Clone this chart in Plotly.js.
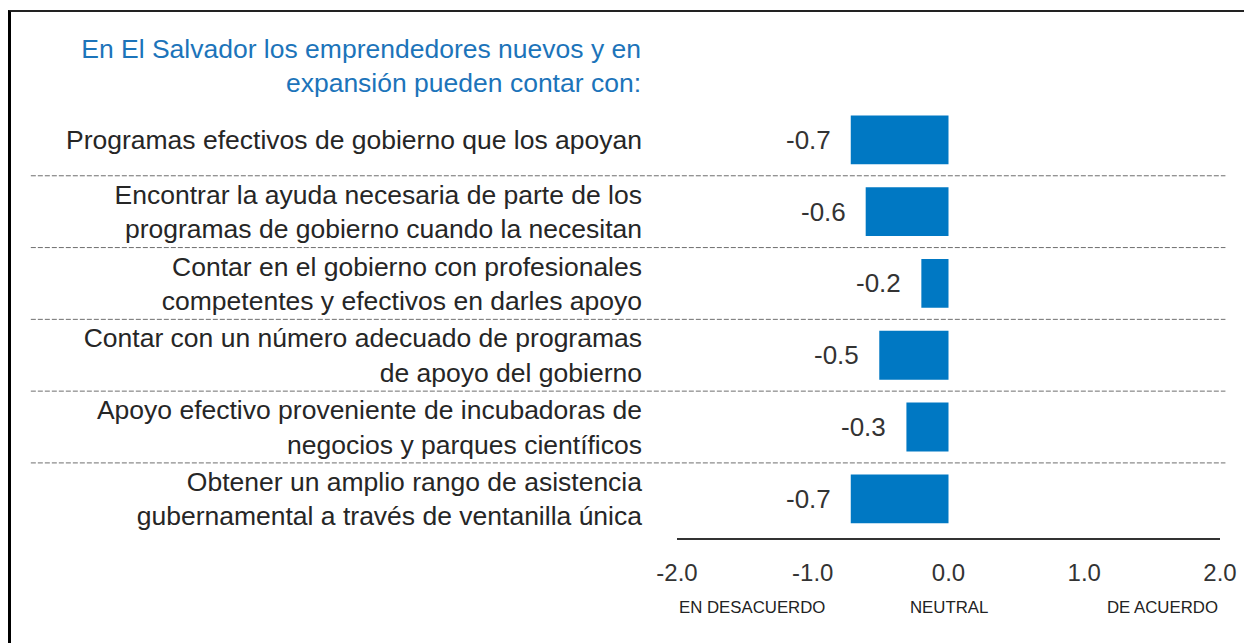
<!DOCTYPE html>
<html>
<head>
<meta charset="utf-8">
<script src="https://cdn.plot.ly/plotly-3.0.1.min.js"></script>
<style>
  html, body { margin: 0; padding: 0; background: #fff; }
  #wrap { position: relative; width: 1244px; height: 643px; overflow: hidden; }
  #chart { width: 1244px; height: 643px; }
  #frame { position: absolute; left: 8px; top: 10px; right: -10px; bottom: -10px;
           border-top: 2px solid #222; border-left: 3px solid #000; pointer-events: none; }
</style>
</head>
<body>
<div id="wrap"><div id="chart"></div><div id="frame"></div></div>
<script>
const titleText = "En El Salvador los emprendedores nuevos y en<br>expansión pueden contar con:";
const categories = [
  "Programas efectivos de gobierno que los apoyan",
  "Encontrar la ayuda necesaria de parte de los<br>programas de gobierno cuando la necesitan",
  "Contar en el gobierno con profesionales<br>competentes y efectivos en darles apoyo",
  "Contar con un número adecuado de programas<br>de apoyo del gobierno",
  "Apoyo efectivo proveniente de incubadoras de<br>negocios y parques científicos",
  "Obtener un amplio rango de asistencia<br>gubernamental a través de ventanilla única"
];
const values = [-0.72, -0.61, -0.20, -0.51, -0.31, -0.72];
const tickValues = [-2, -1, 0, 1, 2];
const tickLabels = ["-2.0", "-1.0", "0.0", "1.0", "2.0"];
const scaleLabels = ["EN DESACUERDO", "NEUTRAL", "DE ACUERDO"];
const scalePositions = [-2, 0, 2];

const FONT = "Liberation Sans, Arial, sans-serif";
const TEXT = "#262626";

const trace = {
  type: "bar",
  orientation: "h",
  x: values,
  y: categories,
  marker: { color: "#0078c3", line: { width: 0 } },
  width: 0.68,
  hoverinfo: "x+y"
};

const annotations = [];
values.forEach((v, i) => {
  annotations.push({
    x: v, y: categories[i], xref: "x", yref: "y",
    text: v.toFixed(1), showarrow: false,
    xanchor: "right", yanchor: "middle", xshift: -18,
    font: { family: FONT, size: 26, color: "#333" }
  });
});
const anchors = ["left", "center", "right"];
scaleLabels.forEach((s, i) => {
  annotations.push({
    x: scalePositions[i], y: -0.16, xref: "x", yref: "paper",
    text: s, showarrow: false, xanchor: anchors[i], yanchor: "middle",
    font: { family: FONT, size: 16.8, color: "#222" }
  });
});

const shapes = [];
for (let i = 0; i < categories.length - 1; i++) {
  shapes.push({
    type: "line", xref: "paper", yref: "y",
    x0: -1.19, x1: 1.01, y0: i + 0.5, y1: i + 0.5,
    line: { color: "#6e6e6e", width: 1, dash: "5px,2px" }
  });
}

const layout = {
  width: 1244, height: 643,
  margin: { l: 677, r: 24, t: 104, b: 105, pad: 0 },
  paper_bgcolor: "#fff", plot_bgcolor: "#fff",
  showlegend: false,
  title: {
    text: titleText,
    x: 641 / 1244, xref: "container", xanchor: "right",
    y: 1 - 58 / 643, yref: "container", yanchor: "top",
    font: { family: FONT, size: 26.5, color: "#1c74ba" }
  },
  xaxis: {
    range: [-2, 2], tickvals: tickValues, ticktext: tickLabels,
    showgrid: false, zeroline: false, showline: true,
    linecolor: "#333", linewidth: 2, ticks: "",
    ticklabelstandoff: 12,
    tickfont: { family: FONT, size: 24, color: "#333" },
    fixedrange: true
  },
  yaxis: {
    type: "category",
    range: [5.546, -0.5],
    showgrid: false, zeroline: false, showline: false, ticks: "",
    ticklabelstandoff: 34,
    tickfont: { family: FONT, size: 26.5, color: TEXT },
    fixedrange: true
  },
  bargap: 0.32,
  annotations: annotations,
  shapes: shapes
};

Plotly.newPlot("chart", [trace], layout, { displayModeBar: false, staticPlot: true });
</script>
</body>
</html>
